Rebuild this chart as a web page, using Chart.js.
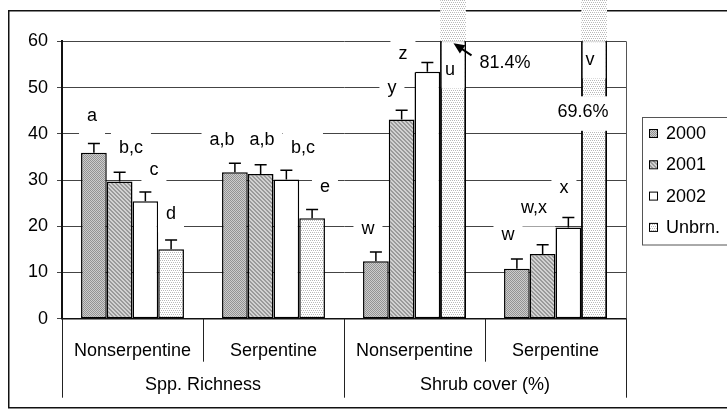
<!DOCTYPE html>
<html><head><meta charset="utf-8">
<script src="https://cdn.jsdelivr.net/npm/chart.js@4/dist/chart.umd.min.js"></script>
<style>html,body{margin:0;padding:0;background:#fff;overflow:hidden}#wrap{position:relative;width:727px;height:420px}</style>
</head><body><div id="wrap"><canvas id="c" width="727" height="420"></canvas></div>
<script>
// ---------- data ----------
const categories = ['Nonserpentine', 'Serpentine', 'Nonserpentine', 'Serpentine'];
const groupLabels = ['Spp. Richness', 'Shrub cover (%)'];
const seriesNames = ['2000', '2001', '2002', 'Unbrn.'];
const values2000 = [35.9, 31.7, 12.4, 10.8];
const values2001 = [29.7, 31.3, 43.1, 14.0];
const values2002 = [25.4, 30.1, 53.4, 19.7];
const valuesUnbrn = [15.0, 21.7, 81.4, 69.6];
const err2000 = [2.0, 1.9, 2.0, 2.1];
const err2001 = [2.0, 2.0, 2.0, 2.0];
const err2002 = [2.0, 2.0, 2.0, 2.2];
const errUnbrn = [2.0, 1.9, null, null];
const yTicks = [0, 10, 20, 30, 40, 50, 60];
// significance letters: text, position on category axis (fractional index), baseline level (value units)
const letterTexts = ['a', 'b,c', 'c', 'd', 'a,b', 'a,b', 'b,c', 'e', 'w', 'y', 'z', 'u', 'v', 'w', 'w,x', 'x'];
const letterX = [-0.287, -0.011, 0.152, 0.273, 0.635, 0.918, 1.209, 1.365, 1.670, 1.840, 1.918, 2.252, 3.245, 2.663, 2.848, 3.060];
const letterY = [42.83, 35.91, 31.09, 21.6, 37.57, 37.57, 35.78, 27.47, 18.32, 48.76, 56.18, 52.72, 54.88, 17.02, 22.86, 27.12];
// value labels of the clipped Unbrn. bars
const clippedLabelX = [2.642, 3.195];
const clippedLabelY = [54.16, 43.56];
// ---------- styles ----------
const FONT = '"Liberation Sans", Arial, sans-serif';
const FS = 18;
const cv = document.getElementById('c');
const ctx0 = cv.getContext('2d');
function pattern(fn) {
  const c = document.createElement('canvas'); c.width = 4; c.height = 4;
  const g = c.getContext('2d'); fn(g);
  return ctx0.createPattern(c, 'repeat');
}
const fill2000 = pattern(g => { g.fillStyle = '#cdcdcd'; g.fillRect(0, 0, 4, 4); g.fillStyle = '#939393';
  for (let i = 0; i < 4; i++) for (let j = 0; j < 4; j++) if ((i + j) % 2 === 0) g.fillRect(i, j, 1, 1); });
const fill2001 = pattern(g => { g.fillStyle = '#d2d2d2'; g.fillRect(0, 0, 4, 4); g.fillStyle = '#9a9a9a';
  for (let i = 0; i < 4; i++) for (let j = 0; j < 4; j++) if ((i - j + 8) % 4 < 2) g.fillRect(i, j, 1, 1); });
const fill2002 = '#ffffff';
const fillUnbrn = pattern(g => { g.fillStyle = '#ffffff'; g.fillRect(0, 0, 4, 4); g.fillStyle = '#b8b8b8';
  for (let i = 0; i < 4; i++) for (let j = 0; j < 4; j++) if ((i % 2 === 0 && j % 4 === 0) || (i % 2 === 1 && j % 4 === 2)) g.fillRect(i, j, 1, 1); });
const fills = [fill2000, fill2001, fill2002, fillUnbrn];
const seriesValues = [values2000, values2001, values2002, valuesUnbrn];
const seriesErr = [err2000, err2001, err2002, errUnbrn];

const deco = {
  id: 'deco',
  beforeDraw(chart) {
    const c = chart.ctx;
    c.save();
    c.fillStyle = '#fff'; c.fillRect(0, 0, chart.width, chart.height);
    c.strokeStyle = '#111'; c.lineWidth = 1.5;
    c.strokeRect(8.75, 10.75, 740, 397);
    c.restore();
  },
  afterDatasetsDraw(chart) {
    const c = chart.ctx, a = chart.chartArea, xs = chart.scales.x, ys = chart.scales.y;
    c.save();
    // plot right border
    c.strokeStyle = '#555'; c.lineWidth = 1;
    c.beginPath(); c.moveTo(Math.round(a.right) + 0.5, a.top); c.lineTo(Math.round(a.right) + 0.5, a.bottom); c.stroke();
    // bars that exceed the axis maximum: side borders inside the plot, fill continuing above it
    const mU = chart.getDatasetMeta(3);
    mU.data.forEach((bar, i) => {
      if (valuesUnbrn[i] > ys.max) {
        const l = bar.x - bar.width / 2, r = bar.x + bar.width / 2;
        c.fillStyle = fillUnbrn;
        c.fillRect(l, 0, bar.width, a.top);
        c.strokeStyle = '#000'; c.lineWidth = 1.5;
        c.beginPath(); c.moveTo(l + 0.75, a.top); c.lineTo(l + 0.75, a.bottom);
        c.moveTo(r - 0.75, a.top); c.lineTo(r - 0.75, a.bottom); c.stroke();
      }
    });
    // error bars
    c.strokeStyle = '#000'; c.lineWidth = 1.5;
    for (let d = 0; d < 4; d++) {
      const meta = chart.getDatasetMeta(d);
      meta.data.forEach((bar, i) => {
        const e = seriesErr[d][i];
        if (e == null) return;
        const top = ys.getPixelForValue(seriesValues[d][i] + e);
        c.beginPath();
        c.moveTo(bar.x, bar.y); c.lineTo(bar.x, top);
        c.moveTo(bar.x - 6, top); c.lineTo(bar.x + 6, top);
        c.stroke();
      });
    }
    // letter labels with white boxes
    c.font = FS + 'px ' + FONT; c.textBaseline = 'alphabetic'; c.textAlign = 'center';
    letterTexts.forEach((t, k) => {
      const px = xs.getPixelForValue(letterX[k]), py = ys.getPixelForValue(letterY[k]);
      const w = c.measureText(t).width;
      let x0 = px - w / 2 - 8, x1 = px + w / 2 + 8, y0 = py - 21, y1 = py + 13.5;
      if (t === 'u' || t === 'v') {
        const bar = mU.data[t === 'u' ? 2 : 3];
        x0 = bar.x - bar.width / 2 + 1.5; x1 = bar.x + bar.width / 2 - 1.5; y0 = a.top + 1;
      }
      c.fillStyle = '#fff'; c.fillRect(x0, y0, x1 - x0, y1 - y0);
      c.fillStyle = '#000'; c.fillText(t, px, py);
    });
    // value labels of clipped bars
    let lbl0 = null;
    [2, 3].forEach((i, k) => {
      const t = valuesUnbrn[i].toFixed(1) + '%';
      const px = xs.getPixelForValue(clippedLabelX[k]), py = ys.getPixelForValue(clippedLabelY[k]);
      const w = c.measureText(t).width;
      c.fillStyle = '#fff'; c.fillRect(px - w / 2 - 8, py - 21, w + 16, 34.5);
      c.fillStyle = '#000'; c.fillText(t, px, py);
      if (k === 0) lbl0 = { left: px - w / 2, y: py };
    });
    // arrow to the clipped bar
    const tx = lbl0.left - 26, ty = lbl0.y - 25, sx = lbl0.left - 8, sy = lbl0.y - 13;
    const ang = Math.atan2(ty - sy, tx - sx);
    c.strokeStyle = '#000'; c.lineWidth = 2;
    c.beginPath(); c.moveTo(sx, sy); c.lineTo(tx - 6 * Math.cos(ang), ty - 6 * Math.sin(ang)); c.stroke();
    c.fillStyle = '#000'; c.beginPath();
    c.moveTo(tx, ty);
    c.lineTo(tx - 11 * Math.cos(ang) + 5 * Math.sin(ang), ty - 11 * Math.sin(ang) - 5 * Math.cos(ang));
    c.lineTo(tx - 11 * Math.cos(ang) - 5 * Math.sin(ang), ty - 11 * Math.sin(ang) + 5 * Math.cos(ang));
    c.closePath(); c.fill();
    // category separators below the axis
    c.strokeStyle = '#222'; c.lineWidth = 1;
    for (let b = 0; b <= categories.length; b++) {
      const bx = Math.round(xs.getPixelForValue(b - 0.5)) + 0.5;
      const long = (b % 2 === 0);
      c.beginPath(); c.moveTo(bx, a.bottom); c.lineTo(bx, a.bottom + (long ? 79 : 43)); c.stroke();
    }
    // second-level labels
    c.fillStyle = '#000'; c.textBaseline = 'middle';
    groupLabels.forEach((g, k) => {
      c.fillText(g, xs.getPixelForValue(2 * k + 0.5), a.bottom + 66);
    });
    // legend
    c.strokeStyle = '#555'; c.lineWidth = 1;
    c.strokeRect(642.5, 117.5, 100, 127.5);
    c.textAlign = 'left';
    seriesNames.forEach((s, k) => {
      const cy = 133 + k * 31.3;
      c.fillStyle = fills[k]; c.fillRect(649, cy - 4, 8, 8);
      c.strokeStyle = '#000'; c.lineWidth = 1; c.strokeRect(649.5, cy - 3.5, 8, 8);
      c.fillStyle = '#000'; c.fillText(s, 666, cy + 1);
    });
    c.restore();
  }
};

Chart.defaults.font.family = FONT;
Chart.defaults.font.size = FS;
Chart.defaults.color = '#000';

new Chart(cv, {
  type: 'bar',
  data: {
    labels: categories,
    datasets: seriesNames.map((n, k) => ({
      label: n, data: seriesValues[k], backgroundColor: fills[k],
      borderColor: '#000', borderWidth: 1.5, borderSkipped: false, clip: 0,
      categoryPercentage: 0.73, barPercentage: 1.0
    }))
  },
  options: {
    responsive: false, animation: false, devicePixelRatio: 1,
    layout: { padding: { left: 8, top: 41.3, right: 101, bottom: 41.3 } },
    plugins: { legend: { display: false }, tooltip: { enabled: false } },
    scales: {
      x: {
        grid: { display: false },
        border: { display: true, color: '#111', width: 1.5 },
        ticks: { padding: 13.5, autoSkip: false, maxRotation: 0, minRotation: 0, font: { size: FS } },
        afterFit: s => { s.height = 60; }
      },
      y: {
        min: 0, max: 60,
        afterBuildTicks: s => { s.ticks = yTicks.map(v => ({ value: v })); },
        grid: { color: '#444', lineWidth: 1, tickLength: 5, drawTicks: true },
        border: { display: true, color: '#111', width: 2 },
        ticks: { padding: 9, font: { size: FS } },
        afterFit: s => { s.width = 54; }
      }
    }
  },
  plugins: [deco]
});
</script>
</body></html>
